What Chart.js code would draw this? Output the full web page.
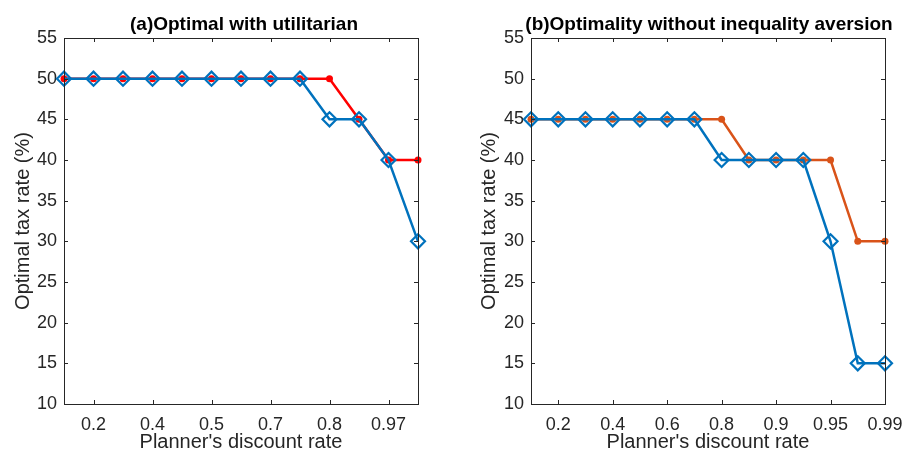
<!DOCTYPE html>
<html>
<head>
<meta charset="utf-8">
<script src="https://cdn.jsdelivr.net/npm/chart.js@4.4.1/dist/chart.umd.min.js"></script>
<style>
  html, body { margin: 0; padding: 0; background: #fff; }
  #wrap { position: relative; width: 902px; height: 454px; }
  .painel { position: absolute; top: 0; width: 451px; height: 454px; }
  #painelA { left: 0; }
  #painelB { left: 451px; }
</style>
</head>
<body>
<div id="wrap">
  <div class="painel" id="painelA"><canvas id="graficoA"></canvas></div>
  <div class="painel" id="painelB"><canvas id="graficoB"></canvas></div>
</div>
<script>
// eixo x: só algumas posições recebem rótulo
const rotulosA = ['', '0.2', '', '0.4', '', '0.5', '', '0.7', '', '0.8', '', '0.97', ''];
const rotulosB = ['', '0.2', '', '0.4', '', '0.6', '', '0.8', '', '0.9', '', '0.95', '', '0.99'];

// (a) utilitarista
const utilA = [50, 50, 50, 50, 50, 50, 50, 50, 50, 50, 45, 40, 40];
const otimoA = [50, 50, 50, 50, 50, 50, 50, 50, 50, 45, 45, 40, 30];

// (b) sem aversão à desigualdade
const utilB = [45, 45, 45, 45, 45, 45, 45, 45, 40, 40, 40, 40, 30, 30];
const otimoB = [45, 45, 45, 45, 45, 45, 45, 40, 40, 40, 40, 30, 15, 15];

const yTicks = [10, 15, 20, 25, 30, 35, 40, 45, 50, 55];

const corTexto = '#262626';
const fonte = "'Liberation Sans', Arial, sans-serif";

// moldura estilo MATLAB: caixa fechada, marcas para dentro e título sobre a área
const moldura = {
    id: 'moldura',
    afterDraw(chart, args, opts) {
        const { ctx, chartArea: { left, right, top, bottom }, scales: { x, y } } = chart;
        ctx.save();
        ctx.strokeStyle = corTexto;
        ctx.lineWidth = 1;
        ctx.strokeRect(Math.round(left) + 0.5, Math.round(top) + 0.5,
            Math.round(right - left), Math.round(bottom - top));
        ctx.beginPath();
        const tam = 4;
        x.ticks.forEach(t => {
            const px = Math.round(x.getPixelForValue(t.value)) + 0.5;
            ctx.moveTo(px, bottom); ctx.lineTo(px, bottom - tam);
            ctx.moveTo(px, top); ctx.lineTo(px, top + tam);
        });
        y.ticks.forEach(t => {
            const py = Math.round(y.getPixelForValue(t.value)) + 0.5;
            ctx.moveTo(left, py); ctx.lineTo(left + tam, py);
            ctx.moveTo(right, py); ctx.lineTo(right - tam, py);
        });
        ctx.stroke();

        ctx.fillStyle = '#000';
        ctx.font = 'bold 19px ' + fonte;
        ctx.textAlign = 'center';
        ctx.textBaseline = 'alphabetic';
        ctx.fillText(opts.texto, (left + right) / 2 + opts.desvio, 30);
        ctx.restore();
    }
};

function montarGrafico(id, rotulos, serieCirculo, serieLosango, corCirculo, titulo, pad) {
    const ctx = document.getElementById(id).getContext('2d');
    return new Chart(ctx, {
        type: 'line',
        data: {
            labels: rotulos,
            datasets: [
                {
                    data: serieLosango,
                    borderColor: '#0072BD',
                    backgroundColor: 'rgba(0,0,0,0)',
                    borderWidth: 2.5,
                    pointStyle: 'rectRot',
                    pointRadius: 7,
                    pointBorderWidth: 2.2,
                    pointBackgroundColor: 'rgba(0,0,0,0)',
                    pointBorderColor: '#0072BD',
                    tension: 0,
                    clip: false
                },
                {
                    data: serieCirculo,
                    borderColor: corCirculo,
                    backgroundColor: corCirculo,
                    borderWidth: 2.5,
                    pointStyle: 'circle',
                    pointRadius: 3.5,
                    pointBorderWidth: 0,
                    pointBackgroundColor: corCirculo,
                    tension: 0,
                    clip: false
                }
            ]
        },
        options: {
            responsive: true,
            maintainAspectRatio: false,
            animation: false,
            events: [],
            layout: { padding: { top: pad.top, right: pad.right, left: pad.left, bottom: 0 } },
            plugins: {
                legend: { display: false },
                tooltip: { enabled: false },
                moldura: { texto: titulo, desvio: pad.desvio }
            },
            scales: {
                x: {
                    type: 'category',
                    offset: false,
                    grid: { display: false, drawTicks: false },
                    border: { display: false },
                    afterBuildTicks: (eixo) => {
                        eixo.ticks = eixo.ticks.filter(t => rotulos[t.value] !== '');
                    },
                    afterFit: (eixo) => {
                        eixo.height = 50;
                        eixo.paddingLeft = 0;
                        eixo.paddingRight = 0;
                    },
                    ticks: {
                        autoSkip: false,
                        maxRotation: 0,
                        color: corTexto,
                        padding: 10,
                        font: { family: fonte, size: 18 }
                    },
                    title: {
                        display: true,
                        text: "Planner's discount rate",
                        color: corTexto,
                        padding: { top: 0, bottom: 0 },
                        font: { family: fonte, size: 20 }
                    }
                },
                y: {
                    min: 10,
                    max: 55,
                    grid: { display: false, drawTicks: false },
                    border: { display: false },
                    afterBuildTicks: (eixo) => {
                        eixo.ticks = yTicks.map(v => ({ value: v }));
                    },
                    afterFit: (eixo) => {
                        eixo.width = pad.yLargura;
                        eixo.paddingTop = 0;
                        eixo.paddingBottom = 0;
                    },
                    ticks: {
                        color: corTexto,
                        padding: 7,
                        font: { family: fonte, size: 18 }
                    },
                    title: {
                        display: true,
                        text: 'Optimal tax rate (%)',
                        color: corTexto,
                        padding: { top: pad.titulo, bottom: 0 },
                        font: { family: fonte, size: 20 }
                    }
                }
            }
        },
        plugins: [moldura]
    });
}

montarGrafico('graficoA', rotulosA, utilA, otimoA, '#FF0000',
    '(a)Optimal with utilitarian', { top: 38, right: 33, left: 0, yLargura: 64, titulo: 11, desvio: 3 });
montarGrafico('graficoB', rotulosB, utilB, otimoB, '#D95319',
    '(b)Optimality without inequality aversion', { top: 38, right: 17, left: 16, yLargura: 64, titulo: 10, desvio: 1 });
</script>
</body>
</html>
